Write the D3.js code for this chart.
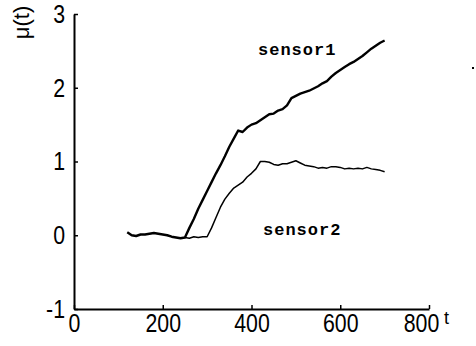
<!DOCTYPE html>
<html>
<head>
<meta charset="utf-8">
<script src="https://cdn.jsdelivr.net/npm/d3@7"></script>
<style>
  body { margin: 0; background: #fff; }
  svg { display: block; }
</style>
</head>
<body>
<div id="chart"></div>
<script>
// sensor readings
const t1 = [120,130,140,150,160,170,180,190,200,210,220,230,240,250,260,270,280,290,300,310,320,330,340,350,360,370,380,390,400,410,420,430,440,450,460,470,480,490,500,510,520,530,540,550,560,570,580,590,600,610,620,630,640,650,660,670,680,690,700];
const sensor1 = [0.04,0.00,-0.01,0.01,0.01,0.02,0.03,0.02,0.01,0.00,-0.02,-0.03,-0.04,-0.03,0.10,0.22,0.36,0.48,0.60,0.72,0.84,0.95,1.07,1.20,1.31,1.42,1.40,1.46,1.50,1.52,1.56,1.60,1.64,1.65,1.69,1.71,1.76,1.86,1.89,1.92,1.94,1.96,1.99,2.02,2.06,2.09,2.15,2.20,2.24,2.28,2.32,2.35,2.39,2.43,2.48,2.53,2.57,2.61,2.64];

const t2 = [250,260,270,280,290,300,310,320,330,340,350,360,370,380,390,400,410,420,430,440,450,460,470,480,490,500,510,520,530,540,550,560,570,580,590,600,610,620,630,640,650,660,670,680,690,700];
const sensor2 = [-0.03,-0.04,-0.02,-0.03,-0.02,-0.02,0.10,0.24,0.38,0.49,0.57,0.64,0.68,0.72,0.79,0.84,0.90,1.00,1.00,0.99,0.96,0.95,0.97,0.97,0.99,1.01,0.98,0.95,0.94,0.93,0.91,0.92,0.91,0.93,0.93,0.92,0.90,0.91,0.90,0.91,0.90,0.92,0.90,0.89,0.88,0.86];

const xTicks = [0, 200, 400, 600, 800];
const yTicks = [-1, 0, 1, 2, 3];

const width = 476, height = 346;

const svg = d3.select("#chart").append("svg")
    .attr("width", width)
    .attr("height", height);

const x = d3.scaleLinear().domain([0, 800]).range([74, 429]);
const y = d3.scaleLinear().domain([-1, 3]).range([309, 14]);

const plain = d => String(d); // short hyphen for -1, like the original

// x axis, ticks pointing inwards
const gx = svg.append("g")
    .attr("transform", `translate(0,${y(-1)})`)
    .call(d3.axisBottom(x).tickValues(xTicks).tickFormat(plain)
        .tickSize(-4).tickSizeOuter(0).tickPadding(4.5));

// y axis
const gy = svg.append("g")
    .attr("transform", `translate(${x(0)},0)`)
    .call(d3.axisLeft(y).tickValues(yTicks).tickFormat(plain)
        .tickSize(-4).tickSizeOuter(0).tickPadding(9));

const squeeze = 0.82; // the original digits are narrow
[gx, gy].forEach(g => {
    g.select(".domain").attr("stroke", "#000").attr("stroke-width", 2);
    g.selectAll(".tick line").attr("stroke", "#000").attr("stroke-width", 1.5);
    g.selectAll(".tick text")
        .attr("fill", "#000")
        .style("font-family", "'Liberation Sans', Arial, sans-serif")
        .style("font-size", "26px");
});
gx.selectAll(".tick text")
    .attr("transform", `scale(${squeeze},1)`)
    // last label is pulled in a little so it clears the "t"
    .attr("x", d => d === 800 ? -8 / squeeze : 0);
gy.selectAll(".tick text")
    .attr("x", -9 / squeeze)
    .attr("transform", `scale(${squeeze},1)`);

const line = d3.line()
    .x(d => x(d[0]))
    .y(d => y(d[1]));

svg.append("path")
    .datum(d3.zip(t1, sensor1))
    .attr("fill", "none")
    .attr("stroke", "#000")
    .attr("stroke-width", 2.4)
    .attr("stroke-linejoin", "round")
    .attr("d", line);

svg.append("path")
    .datum(d3.zip(t2, sensor2))
    .attr("fill", "none")
    .attr("stroke", "#000")
    .attr("stroke-width", 1.5)
    .attr("stroke-linejoin", "round")
    .attr("d", line);

// series labels
const seriesLabels = svg.append("g")
    .style("font-family", "'Liberation Mono', 'Courier New', monospace")
    .style("font-weight", "bold")
    .style("font-size", "17px")
    .style("letter-spacing", "1px");
seriesLabels.append("text").attr("x", 258).attr("y", 55).text("sensor1");
seriesLabels.append("text").attr("x", 263).attr("y", 235).text("sensor2");

// axis titles
svg.append("text")
    .attr("transform", "translate(29,22.5) rotate(-90)")
    .attr("text-anchor", "middle")
    .style("font-family", "'Liberation Sans', Arial, sans-serif")
    .style("font-size", "22px")
    .text("μ(t)");

svg.append("text")
    .attr("x", 444)
    .attr("y", 324)
    .style("font-family", "'Liberation Sans', Arial, sans-serif")
    .style("font-size", "18px")
    .text("t");

// stray speck on the original scan
svg.append("rect").attr("x", 472).attr("y", 67).attr("width", 2).attr("height", 2).attr("fill", "#000");
</script>
</body>
</html>
